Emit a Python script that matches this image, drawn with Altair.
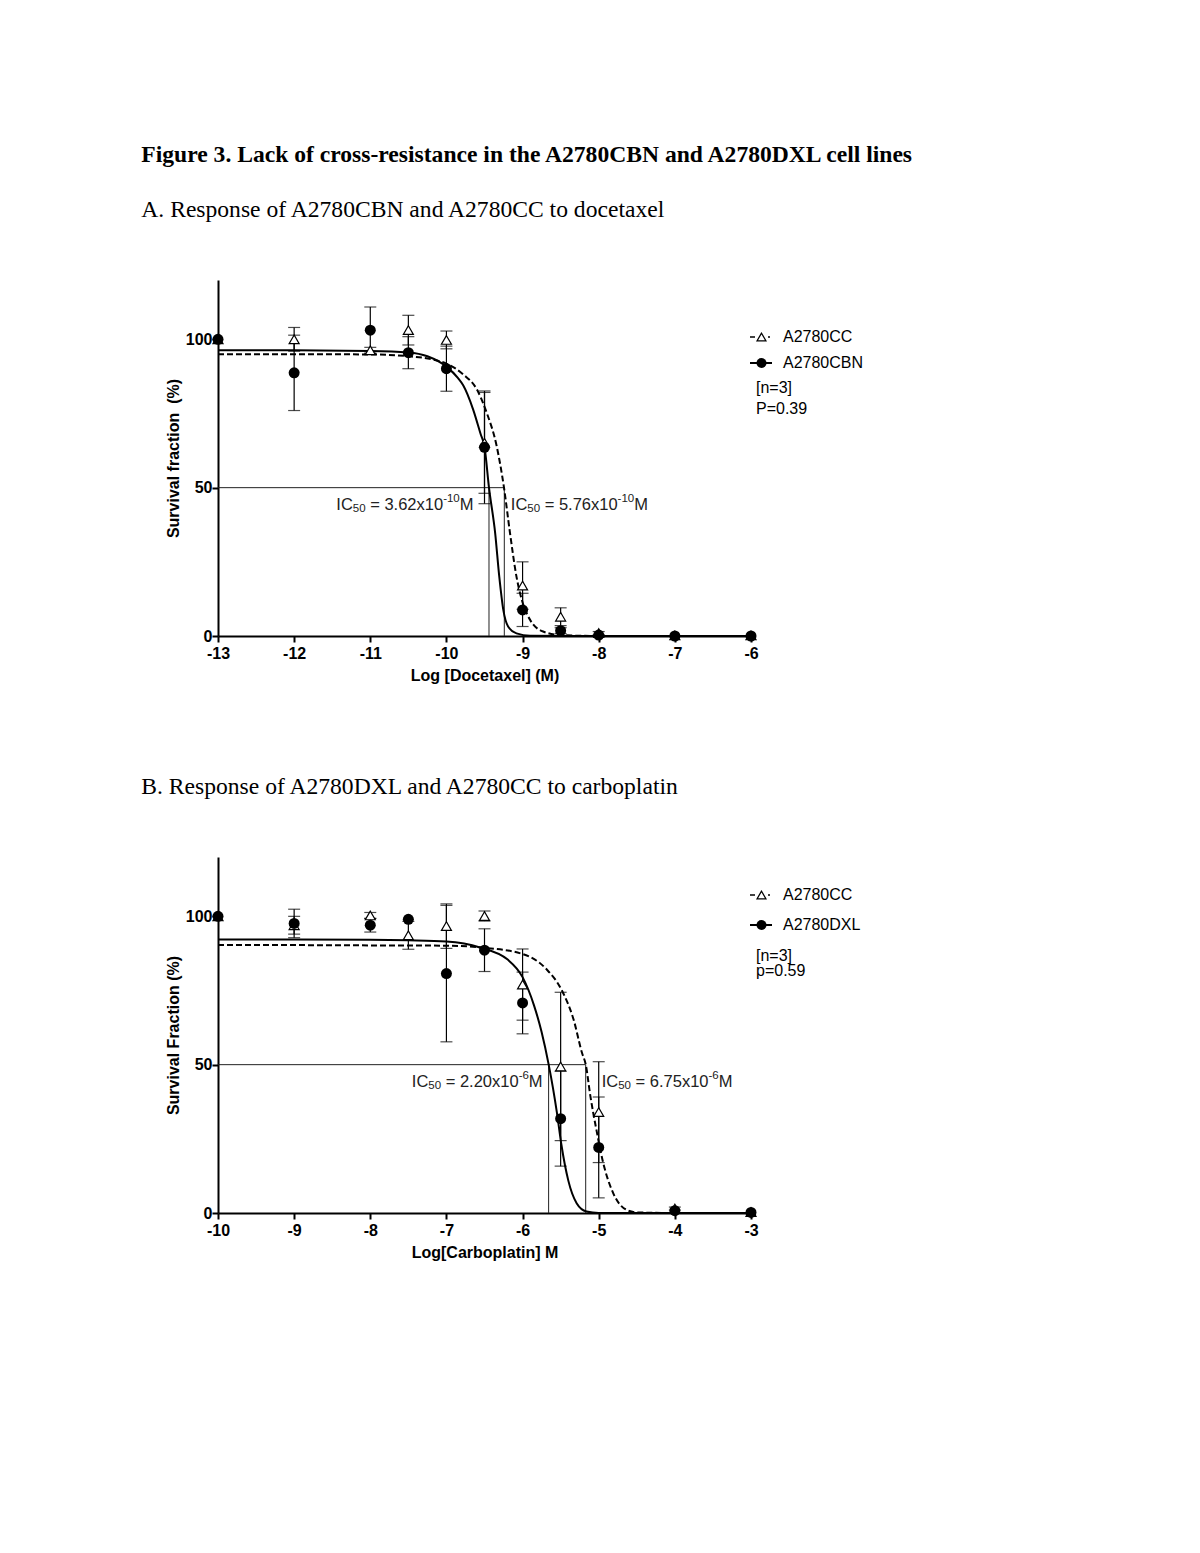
import altair as alt
import pandas as pd

SANS = "Liberation Sans"
SERIF = "Liberation Serif"

# ---------------- Panel A : docetaxel ----------------
A_DOSE = [-13, -12, -11, -10.5, -10, -9.5, -9, -8.5, -8, -7, -6]
A_CC_MEAN = [100, 100, 96.3, 103.1, 99.8, 65.1, 17.0, 6.5, 1.0, 0.2, 0.2]
A_CC_SD = [0, 4.0, 1.0, 5.0, 3.0, 17.0, 8.0, 3.0, 0.5, 0, 0]
A_RES_MEAN = [100, 88.7, 103.1, 95.5, 90.1, 63.6, 8.8, 1.8, 0.3, 0.0, 0.0]
A_RES_SD = [0, 12.7, 7.8, 5.4, 7.6, 19.0, 5.6, 1.0, 0, 0, 0]

A_CC_FIT_X = [-13, -12, -11, -10.5, -10.2, -10.0, -9.78, -9.6, -9.47, -9.34, -9.244,
              -9.165, -9.08, -9.01, -8.9, -8.73, -8.5, -8, -7, -6]
A_CC_FIT_Y = [95.0, 95.0, 94.9, 94.3, 93.3, 91.8, 88.2, 83.1, 75.2, 64.0, 50.0,
              34.7, 20.0, 12.2, 5.4, 1.5, 0.3, 0, 0, 0]
A_RES_FIT_X = [-13, -12, -11, -10.5, -10.25, -10.0, -9.85, -9.78, -9.65, -9.55, -9.5,
               -9.441, -9.36, -9.306, -9.253, -9.19, -9.08, -8.9, -8, -7, -6]
A_RES_FIT_Y = [96.3, 96.3, 96.1, 95.6, 94.3, 90.8, 87.0, 84.5, 76.4, 68.0, 63.8,
               50.0, 34.7, 20.0, 8.8, 3.2, 0.9, 0.1, 0, 0, 0]
A_LOG_IC50_RES = -9.441   # 3.62e-10 M
A_LOG_IC50_CC = -9.240    # 5.76e-10 M
A_IC50_RES_TEXT = ("3.62", "-10")
A_IC50_CC_TEXT = ("5.76", "-10")
A_LEGEND = ["A2780CC", "A2780CBN"]
A_NOTES = ["[n=3]", "P=0.39"]

# ---------------- Panel B : carboplatin ----------------
B_DOSE = [-10, -9, -8, -7.5, -7, -6.5, -6, -5.5, -5, -4, -3]
B_CC_MEAN = [100, 97.0, 100.3, 93.6, 96.7, 100.1, 77.0, 49.4, 34.0, 1.5, 0.3]
B_CC_SD = [0, 3.0, 1.0, 4.7, 7.5, 1.7, 12.0, 25.0, 17.0, 0.5, 0]
B_RES_MEAN = [100, 97.6, 97.0, 99.0, 80.7, 88.6, 70.8, 31.8, 22.1, 0.8, 0.2]
B_RES_SD = [0, 4.8, 2.3, 0, 23.0, 7.2, 10.4, 16.0, 17.0, 0, 0]

B_CC_FIT_X = [-10, -9, -8, -7, -6.5, -6.0, -5.68, -5.49, -5.33, -5.22, -5.17,
              -5.11, -5.03, -4.94, -4.81, -4.63, -4.5, -4, -3]
B_CC_FIT_Y = [90.3, 90.3, 90.2, 90.1, 89.4, 87.3, 82.0, 75.3, 65.2, 54.0, 50.0,
              39.5, 28.0, 16.8, 6.7, 1.0, 0.2, 0, 0]
B_RES_FIT_X = [-10, -9, -8, -7.5, -7, -6.56, -6.2, -6.0, -5.85, -5.75, -5.657,
               -5.6, -5.55, -5.49, -5.4, -5.29, -5.16, -5.0, -4, -3]
B_RES_FIT_Y = [92.2, 92.2, 92.1, 91.9, 91.5, 89.5, 85.5, 79.5, 70.0, 61.0, 50.0,
               42.0, 34.0, 23.0, 11.0, 3.3, 0.5, 0, 0, 0]
B_LOG_IC50_RES = -5.658   # 2.20e-6 M
B_LOG_IC50_CC = -5.171    # 6.75e-6 M
B_IC50_RES_TEXT = ("2.20", "-6")
B_IC50_CC_TEXT = ("6.75", "-6")
B_LEGEND = ["A2780CC", "A2780DXL"]
B_NOTES = ["[n=3]", "p=0.59"]

W, H = 533, 356
ONE = pd.DataFrame({"k": [0]})

# Arial / Liberation Sans advance widths (em) used to lay out sub/superscripts
ADV = {"I": 0.278, "C": 0.722, "M": 0.833, " ": 0.278, "=": 0.584, ".": 0.278,
       "x": 0.5, "-": 0.333}
for d in "0123456789":
    ADV[d] = 0.556


def text_w(t, size):
    return sum(ADV.get(c, 0.556) for c in t) * size


def ic50_layers(xval, mant, expo, anchor_dx, align, X, Y, dy0=17, main=16.5, small=11.5):
    pieces = [("IC", main, 0, 0.0), ("50", small, 4, 0.0),
              ("= " + mant + "x10", main, 0, text_w(" ", main)),
              (expo, small, -6, 0.0), ("M", main, 0, 0.0)]
    total = sum(text_w(p[0], p[1]) + p[3] for p in pieces)
    start = anchor_dx if align == "left" else anchor_dx - total
    out = []
    df = pd.DataFrame({"x": [xval], "y": [50]})
    cur = start
    for txt, size, shift, pre in pieces:
        cur += pre
        out.append(alt.Chart(df).mark_text(align="left", baseline="middle", dx=cur,
                                           dy=dy0 + shift, font=SANS, fontSize=size,
                                           color="#222").encode(
            x=X("x"), y=Y("y"), text=alt.value(txt)))
        cur += text_w(txt, size)
    return out


def build_panel(dose, cc_m, cc_sd, rs_m, rs_sd, cc_fx, cc_fy, rs_fx, rs_fy,
                ic_rs, ic_cc, lab_rs, lab_cc, xmin, xmax, xtitle, ytitle,
                names, notes, leg_y, lab_dx, title):
    xs = alt.Scale(domain=[xmin, xmax], nice=False, zero=False)
    ys = alt.Scale(domain=[0, 120], nice=False)
    common = dict(domainColor="black", domainWidth=2, tickColor="black", tickWidth=2,
                  tickSize=6, labelFont=SANS, labelFontSize=16, labelFontWeight="bold",
                  labelColor="black", titleFont=SANS, titleFontSize=16,
                  titleFontWeight="bold", titleColor="black", grid=False,
                  labelExpr="'' + datum.value")
    xaxis = alt.Axis(values=list(range(xmin, xmax + 1)), title=xtitle, labelPadding=3,
                     titlePadding=6, labelFlush=False, **common)
    yaxis = alt.Axis(values=[0, 50, 100], title=ytitle, labelPadding=0, titlePadding=4,
                     **common)

    def X(f):
        return alt.X(f, type="quantitative", scale=xs, axis=xaxis)

    def Y(f):
        return alt.Y(f, type="quantitative", scale=ys, axis=yaxis)

    layers = []
    # IC50 reference lines
    href = pd.DataFrame({"x": [xmin], "x2": [ic_cc], "y": [50]})
    layers.append(alt.Chart(href).mark_rule(color="#222", strokeWidth=1).encode(
        x=X("x"), x2="x2", y=Y("y")))
    vref = pd.DataFrame({"x": [ic_rs, ic_cc], "y": [0, 0], "y2": [50, 50]})
    layers.append(alt.Chart(vref).mark_rule(color="#222", strokeWidth=1).encode(
        x=X("x"), y=Y("y"), y2="y2"))
    # fitted curves
    fcc = pd.DataFrame({"x": cc_fx, "y": cc_fy})
    frs = pd.DataFrame({"x": rs_fx, "y": rs_fy})
    layers.append(alt.Chart(fcc).mark_line(color="black", strokeWidth=2,
                                           strokeDash=[6, 3], interpolate="monotone").encode(
        x=X("x"), y=Y("y")))
    layers.append(alt.Chart(frs).mark_line(color="black", strokeWidth=2,
                                           interpolate="monotone").encode(
        x=X("x"), y=Y("y")))
    # error bars
    ex, elo, ehi = [], [], []
    for xv, m, s in list(zip(dose, cc_m, cc_sd)) + list(zip(dose, rs_m, rs_sd)):
        if s > 0:
            ex.append(xv)
            elo.append(m - s)
            ehi.append(m + s)
    err = pd.DataFrame({"x": ex, "lo": elo, "hi": ehi})
    caps = pd.DataFrame({"x": ex + ex, "y": elo + ehi})
    layers.append(alt.Chart(err).mark_rule(color="black", strokeWidth=1.2).encode(
        x=X("x"), y=Y("lo"), y2="hi"))
    layers.append(alt.Chart(caps).mark_tick(color="black", orient="horizontal", size=12,
                                            thickness=1.2).encode(x=X("x"), y=Y("y")))
    # points
    tri = pd.DataFrame({"x": dose, "y": cc_m})
    cir = pd.DataFrame({"x": dose, "y": rs_m})
    layers.append(alt.Chart(tri).mark_point(shape="triangle-up", filled=True, fill="white",
                                            stroke="black", strokeWidth=1.2, size=100,
                                            opacity=1).encode(x=X("x"), y=Y("y")))
    layers.append(alt.Chart(cir).mark_point(shape="circle", filled=True, color="black",
                                            size=121, opacity=1).encode(x=X("x"), y=Y("y")))
    # IC50 labels (subscript / superscript pieces)
    layers += ic50_layers(ic_rs, lab_rs[0], lab_rs[1], lab_dx[0], "right", X, Y)
    layers += ic50_layers(ic_cc, lab_cc[0], lab_cc[1], lab_dx[1], "left", X, Y)
    # legend (drawn in pixel space to the right of the plot)
    y0, y1, y2, y3 = leg_y
    layers.append(alt.Chart(ONE).mark_rule(color="black", strokeWidth=1.5).encode(
        x=alt.value(532), x2=alt.value(537), y=alt.value(y0)))
    layers.append(alt.Chart(ONE).mark_rule(color="black", strokeWidth=1.5).encode(
        x=alt.value(550), x2=alt.value(552), y=alt.value(y0)))
    layers.append(alt.Chart(ONE).mark_point(shape="triangle-up", filled=True, fill="white",
                                            stroke="black", strokeWidth=1.2, size=80,
                                            opacity=1).encode(
        x=alt.value(543.5), y=alt.value(y0)))
    layers.append(alt.Chart(ONE).mark_rule(color="black", strokeWidth=2).encode(
        x=alt.value(532), x2=alt.value(554), y=alt.value(y1)))
    layers.append(alt.Chart(ONE).mark_point(shape="circle", filled=True, color="black",
                                            size=100, opacity=1).encode(
        x=alt.value(543.5), y=alt.value(y1)))
    for txt, xx, yy in [(names[0], 565, y0), (names[1], 565, y1),
                        (notes[0], 538, y2), (notes[1], 538, y3)]:
        layers.append(alt.Chart(ONE).mark_text(align="left", baseline="middle", font=SANS,
                                               fontSize=16, color="black").encode(
            x=alt.value(xx), y=alt.value(yy), text=alt.value(txt)))

    return alt.layer(*layers).properties(width=W, height=H, title=title)


title_a = alt.TitleParams(
    text="Figure 3. Lack of cross-resistance in the A2780CBN and A2780DXL cell lines",
    subtitle="A. Response of A2780CBN and A2780CC to docetaxel",
    anchor="start", frame="bounds", dx=-24, offset=58,
    font=SERIF, fontSize=23.6, fontWeight="bold", color="black",
    subtitleFont=SERIF, subtitleFontSize=23.6, subtitleColor="black", subtitlePadding=32)
title_b = alt.TitleParams(
    text="B. Response of A2780DXL and A2780CC to carboplatin",
    anchor="start", frame="bounds", dx=-24, offset=58,
    font=SERIF, fontSize=23.6, fontWeight="normal", color="black")

panel_a = build_panel(A_DOSE, A_CC_MEAN, A_CC_SD, A_RES_MEAN, A_RES_SD,
                      A_CC_FIT_X, A_CC_FIT_Y, A_RES_FIT_X, A_RES_FIT_Y,
                      A_LOG_IC50_RES, A_LOG_IC50_CC, A_IC50_RES_TEXT, A_IC50_CC_TEXT,
                      -13, -6, "Log [Docetaxel] (M)", "Survival fraction\u00a0 (%)",
                      A_LEGEND, A_NOTES, [57, 83, 108, 129], [-15.5, 6.5], title_a)
panel_b = build_panel(B_DOSE, B_CC_MEAN, B_CC_SD, B_RES_MEAN, B_RES_SD,
                      B_CC_FIT_X, B_CC_FIT_Y, B_RES_FIT_X, B_RES_FIT_Y,
                      B_LOG_IC50_RES, B_LOG_IC50_CC, B_IC50_RES_TEXT, B_IC50_CC_TEXT,
                      -10, -3, "Log[Carboplatin] M", "Survival Fraction (%)",
                      B_LEGEND, B_NOTES, [38, 68, 99, 114], [-6, 16], title_b)

chart = alt.vconcat(panel_a, panel_b, spacing=92).properties(
    padding={"left": 133, "top": 134, "right": 10, "bottom": 10},
    background="white"
).configure_view(stroke="transparent", strokeWidth=0)

chart.save("out.html", embed_options={"renderer": "svg", "actions": False})
